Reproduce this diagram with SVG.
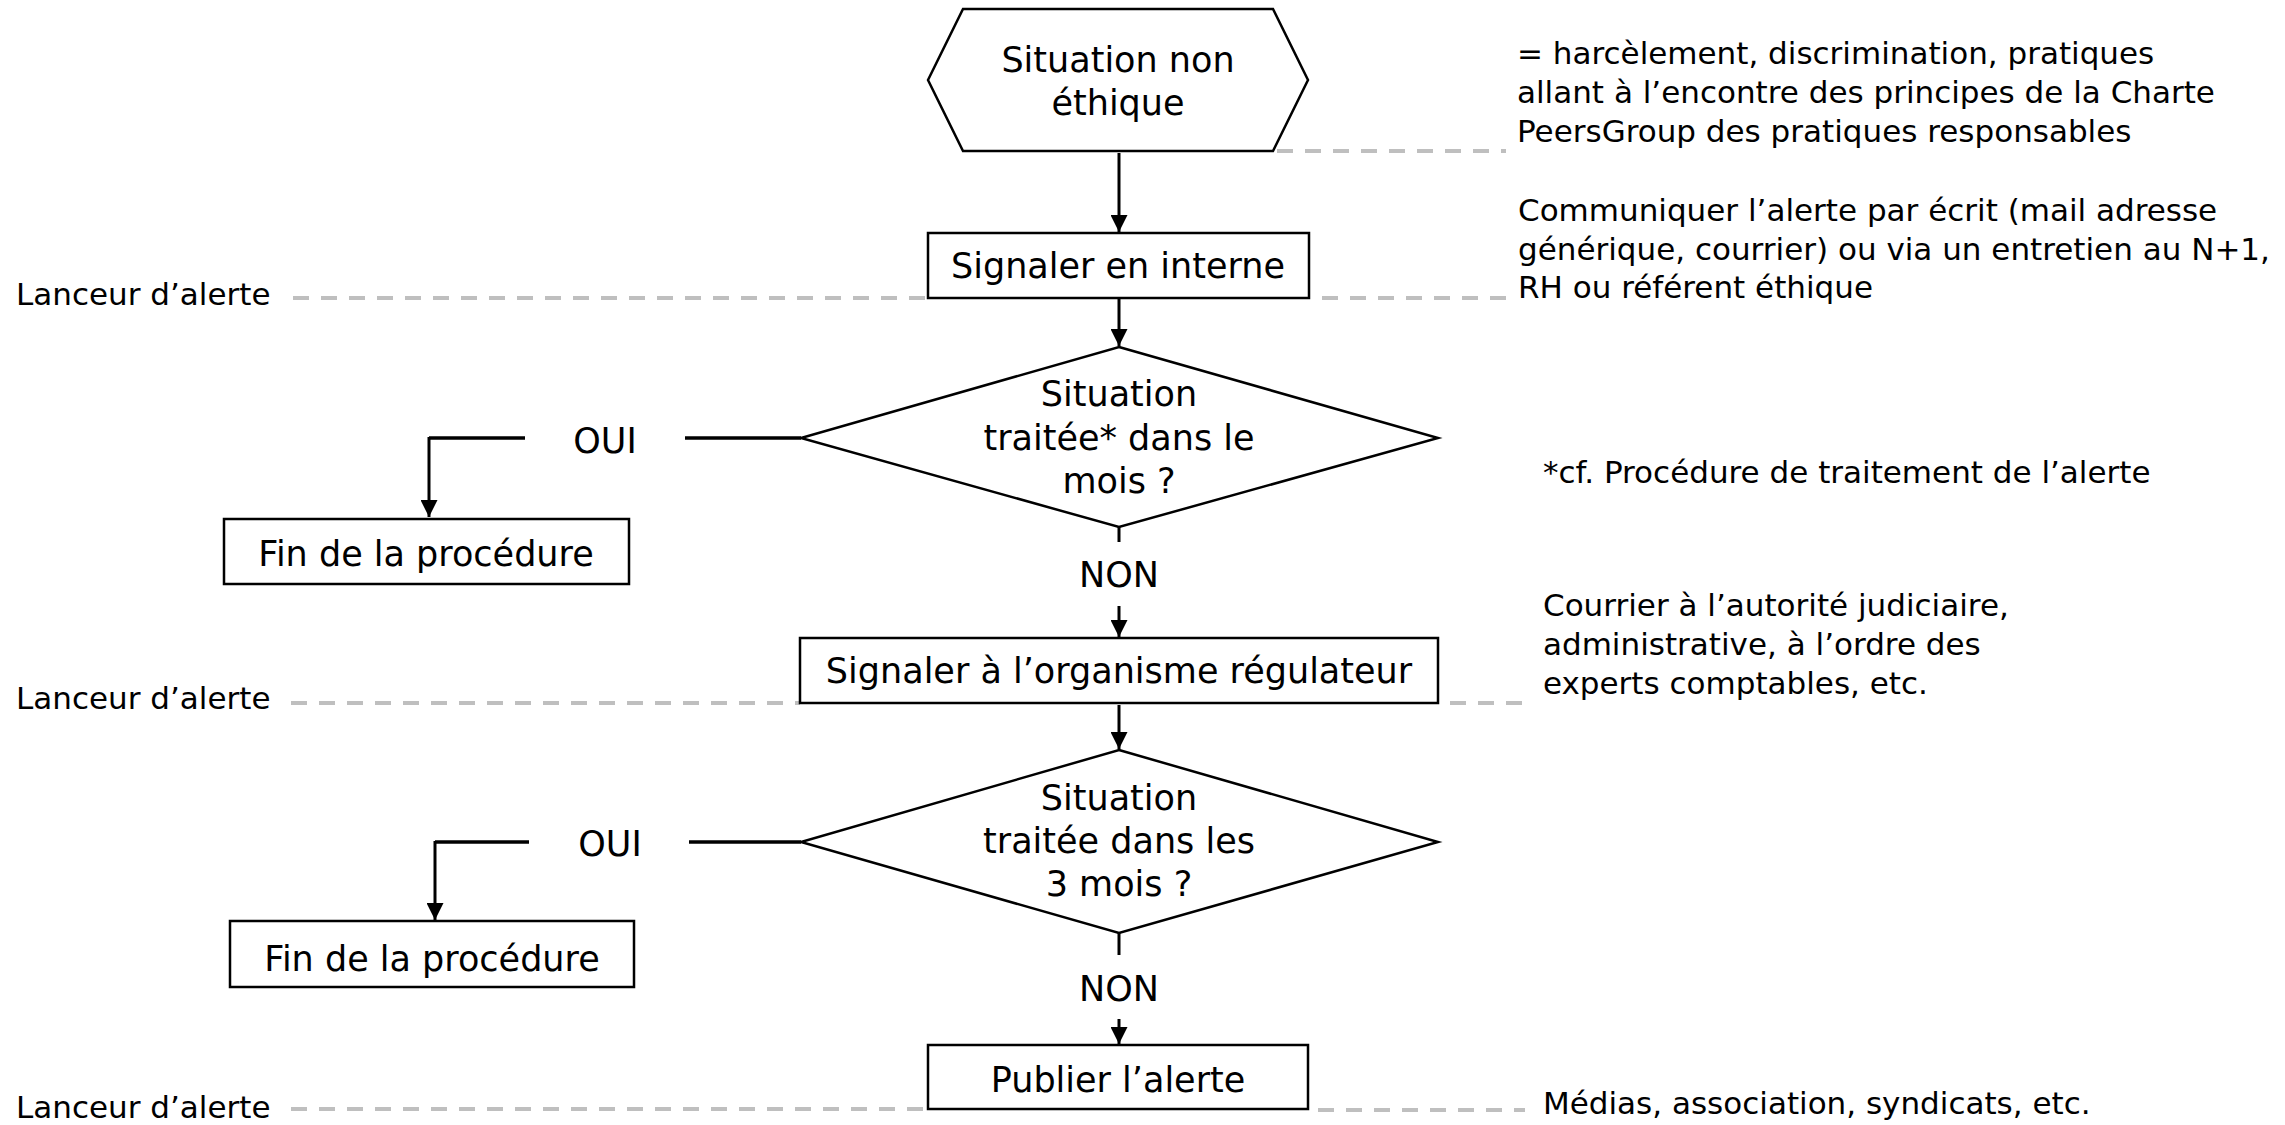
<svg xmlns="http://www.w3.org/2000/svg" width="2285" height="1125" viewBox="0 0 2285 1125">
<style>
text{font-family:"DejaVu Sans","Liberation Sans",sans-serif;fill:#000}
.box{font-size:35px;text-anchor:middle}
.note{font-size:31px}
.shape{fill:#fff;stroke:#000;stroke-width:2.5}
.conn{fill:none;stroke:#000;stroke-width:3}
.thick{fill:none;stroke:#000;stroke-width:3.5}
.dash{fill:none;stroke:#BFBFBF;stroke-width:4;stroke-dasharray:16 12}
</style>
<defs>
<marker id="arr" markerUnits="userSpaceOnUse" markerWidth="17" markerHeight="17" viewBox="0 0 17 17" refX="17" refY="8.5" orient="auto">
<path d="M0,0 L17,8.5 L0,17 Z" fill="#000"/>
</marker>
</defs>
<rect width="2285" height="1125" fill="#fff"/>

<g id="annotation-lines">
<line class="dash" x1="1277" y1="151" x2="1506" y2="151"/>
<line class="dash" x1="293" y1="298" x2="928" y2="298"/>
<line class="dash" x1="1322" y1="298" x2="1506" y2="298"/>
<line class="dash" x1="291" y1="703" x2="800" y2="703"/>
<line class="dash" x1="1450" y1="703" x2="1522" y2="703"/>
<line class="dash" x1="291" y1="1109" x2="928" y2="1109"/>
<line class="dash" x1="1318" y1="1110" x2="1525" y2="1110"/>
</g>

<g id="connectors">
<line class="conn" x1="1119" y1="153" x2="1119" y2="232" marker-end="url(#arr)"/>
<line class="conn" x1="1119" y1="299" x2="1119" y2="346" marker-end="url(#arr)"/>
<line class="conn" x1="1119" y1="527" x2="1119" y2="542"/>
<line class="conn" x1="1119" y1="606" x2="1119" y2="637" marker-end="url(#arr)"/>
<line class="conn" x1="1119" y1="705" x2="1119" y2="749" marker-end="url(#arr)"/>
<line class="conn" x1="1119" y1="933" x2="1119" y2="955"/>
<line class="conn" x1="1119" y1="1019" x2="1119" y2="1044" marker-end="url(#arr)"/>
<line class="thick" x1="801" y1="438" x2="685" y2="438"/>
<path class="thick" d="M525,438 H429"/>
<line class="conn" x1="429" y1="437" x2="429" y2="517" marker-end="url(#arr)"/>
<line class="thick" x1="801" y1="842" x2="689" y2="842"/>
<path class="thick" d="M529,842 H435"/>
<line class="conn" x1="435" y1="841" x2="435" y2="920" marker-end="url(#arr)"/>
<text class="box" x="1119" y="587">NON</text>
<text class="box" x="1119" y="1001">NON</text>
<text class="box" x="605" y="453">OUI</text>
<text class="box" x="610" y="856">OUI</text>
</g>

<g id="n-start">
<polygon class="shape" points="928,80 963,9 1273,9 1308,80 1273,151 963,151"/>
<text class="box" x="1118" y="72">Situation non</text>
<text class="box" x="1118" y="115">éthique</text>
</g>
<g id="n-signaler-interne">
<rect class="shape" x="928" y="233" width="381" height="65"/>
<text class="box" x="1118" y="278">Signaler en interne</text>
</g>
<g id="n-decision1">
<polygon class="shape" points="1119,347 1438,438 1119,527 801,438"/>
<text class="box" x="1119" y="406">Situation</text>
<text class="box" x="1119" y="450">traitée* dans le</text>
<text class="box" x="1119" y="493">mois ?</text>
</g>
<g id="n-fin1">
<rect class="shape" x="224" y="519" width="405" height="65"/>
<text class="box" x="426" y="566">Fin de la procédure</text>
</g>
<g id="n-signaler-regulateur">
<rect class="shape" x="800" y="638" width="638" height="65"/>
<text class="box" x="1119" y="683">Signaler à l’organisme régulateur</text>
</g>
<g id="n-decision2">
<polygon class="shape" points="1119,750 1438,842 1119,933 801,842"/>
<text class="box" x="1119" y="810">Situation</text>
<text class="box" x="1119" y="853">traitée dans les</text>
<text class="box" x="1119" y="896">3 mois ?</text>
</g>
<g id="n-fin2">
<rect class="shape" x="230" y="921" width="404" height="66"/>
<text class="box" x="432" y="971">Fin de la procédure</text>
</g>
<g id="n-publier">
<rect class="shape" x="928" y="1045" width="380" height="64"/>
<text class="box" x="1118" y="1092">Publier l’alerte</text>
</g>

<g id="labels-left">
<text class="note" x="16" y="305">Lanceur d’alerte</text>
<text class="note" x="16" y="709">Lanceur d’alerte</text>
<text class="note" x="16" y="1118">Lanceur d’alerte</text>
</g>
<g id="notes-right">
<text class="note" x="1517" y="64">= harcèlement, discrimination, pratiques</text>
<text class="note" x="1517" y="103">allant à l’encontre des principes de la Charte</text>
<text class="note" x="1517" y="142">PeersGroup des pratiques responsables</text>
<text class="note" x="1518" y="221">Communiquer l’alerte par écrit (mail adresse</text>
<text class="note" x="1518" y="260">générique, courrier) ou via un entretien au N+1,</text>
<text class="note" x="1518" y="298">RH ou référent éthique</text>
<text class="note" x="1543" y="483">*cf. Procédure de traitement de l’alerte</text>
<text class="note" x="1543" y="616">Courrier à l’autorité judiciaire,</text>
<text class="note" x="1543" y="655">administrative, à l’ordre des</text>
<text class="note" x="1543" y="694">experts comptables, etc.</text>
<text class="note" x="1543" y="1114">Médias, association, syndicats, etc.</text>
</g>
</svg>
